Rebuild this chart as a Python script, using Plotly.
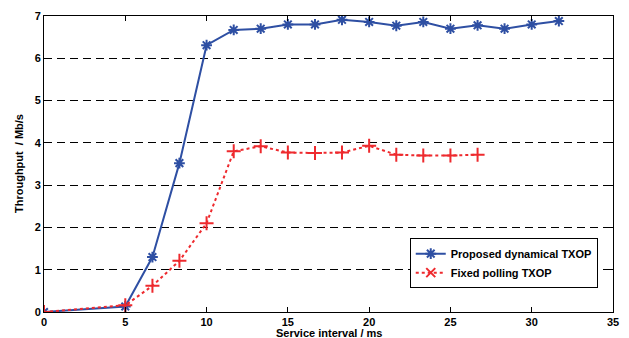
import plotly.graph_objects as go

x_blue = [0, 5, 6.67, 8.33, 10, 11.67, 13.33, 15, 16.67, 18.33, 20, 21.67, 23.33, 25, 26.67, 28.33, 30, 31.67]
y_blue = [0, 0.13, 1.3, 3.52, 6.31, 6.67, 6.7, 6.8, 6.8, 6.91, 6.86, 6.77, 6.86, 6.7, 6.78, 6.7, 6.8, 6.88]
x_red = [0, 5, 6.67, 8.33, 10, 11.67, 13.33, 15, 16.67, 18.33, 20, 21.67, 23.33, 25, 26.67]
y_red = [0, 0.16, 0.62, 1.21, 2.1, 3.8, 3.92, 3.77, 3.76, 3.77, 3.93, 3.72, 3.7, 3.7, 3.72]

name_blue = "Proposed dynamical TXOP"
name_red = "Fixed polling TXOP"
x_ticks = [0, 5, 10, 15, 20, 25, 30, 35]
y_ticks = [0, 1, 2, 3, 4, 5, 6, 7]

BLUE = "#2E4FA3"
RED = "#EE2A2E"
FONT = "Liberation Sans"

fig = go.Figure()
fig.add_trace(go.Scatter(
    x=x_blue, y=y_blue, name=name_blue, mode="lines+markers",
    line=dict(color=BLUE, width=2),
    marker=dict(symbol="asterisk-open", size=9, color=BLUE, line=dict(color=BLUE, width=2)),
))
fig.add_trace(go.Scatter(
    x=x_red, y=y_red, name=name_red, mode="lines+markers", showlegend=False,
    line=dict(color=RED, width=2, dash="dot"),
    marker=dict(symbol="cross-thin-open", size=10, color=RED, line=dict(color=RED, width=2)),
))
# legend entry (MATLAB legend shows an x marker for this series)
fig.add_trace(go.Scatter(
    x=[None], y=[None], name=name_red, mode="lines+markers",
    line=dict(color=RED, width=2, dash="dot"),
    marker=dict(symbol="x-thin-open", size=9, color=RED, line=dict(color=RED, width=2)),
))

axis_common = dict(
    showline=True, linecolor="black", linewidth=1, mirror="ticks",
    ticks="inside", ticklen=5, tickcolor="black", tickwidth=1,
    zeroline=False,
    tickfont=dict(family=FONT, size=11, color="black", weight="bold"),
)
fig.update_xaxes(range=[0, 35], tickvals=x_ticks, showgrid=False, **axis_common)
fig.update_yaxes(range=[0, 7], tickvals=y_ticks, showgrid=True, gridcolor="black",
                 gridwidth=1, griddash="8px,5px", **axis_common)

fig.add_annotation(text="Service interval / ms", xref="paper", yref="paper",
                   x=0.5, y=0, yshift=-13, xanchor="center", yanchor="top", showarrow=False,
                   font=dict(family=FONT, size=11, color="black", weight="bold"))
fig.add_annotation(text="Throughput  / Mb/s", xref="paper", yref="paper",
                   x=0, y=0.5, xshift=-17, textangle=-90, xanchor="right", yanchor="middle",
                   showarrow=False,
                   font=dict(family=FONT, size=11, color="black", weight="bold"))

fig.update_layout(
    width=629, height=338,
    margin=dict(l=44, r=10, t=14, b=24),
    paper_bgcolor="white", plot_bgcolor="white",
    showlegend=True,
    legend=dict(x=0.808, y=0.165, xanchor="center", yanchor="middle",
                bgcolor="white", bordercolor="black", borderwidth=1,
                font=dict(family=FONT, size=11, color="black", weight="bold"),
                tracegroupgap=0, itemwidth=30),
)
fig.write_html("out.html")
